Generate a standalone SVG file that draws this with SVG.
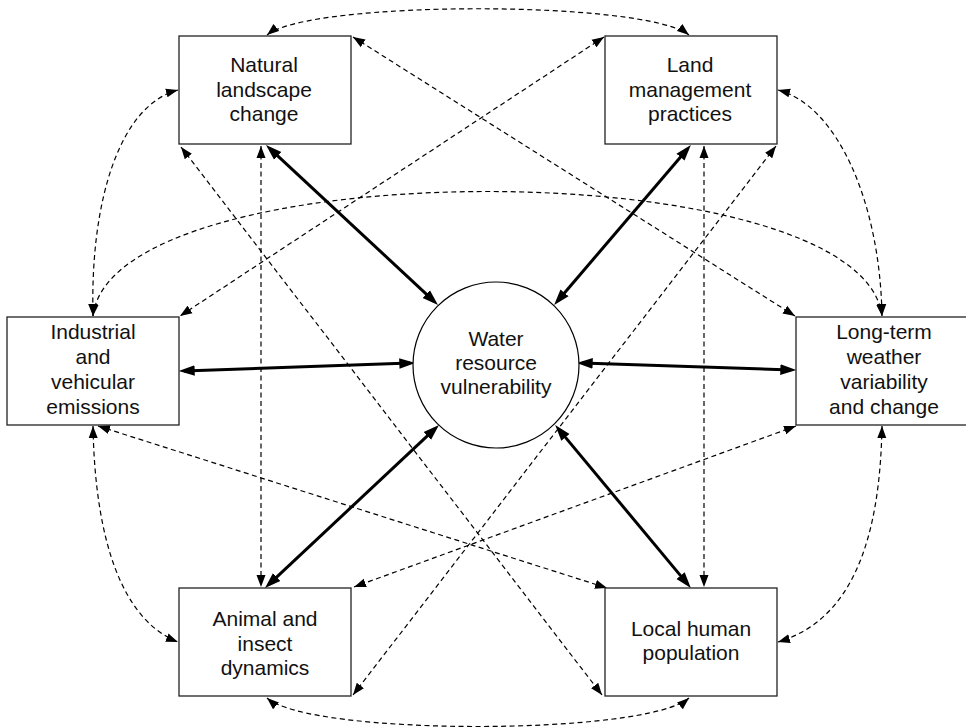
<svg xmlns="http://www.w3.org/2000/svg" width="966" height="728" viewBox="0 0 966 728">
<defs>
<marker id="ad" markerUnits="userSpaceOnUse" markerWidth="12" markerHeight="10" refX="10" refY="3.75" orient="auto-start-reverse" viewBox="0 0 10 7.5">
<path d="M0,0 L10,3.75 L0,7.5 z" fill="#000" stroke="none"/>
</marker>
<marker id="at" markerUnits="userSpaceOnUse" markerWidth="16" markerHeight="12" refX="10" refY="5" orient="auto-start-reverse" viewBox="0 0 15 10">
<path d="M0,0 L15,5 L0,10 z" fill="#000" stroke="none"/>
</marker>
</defs>
<style>
.box{fill:#fff;stroke:#222;stroke-width:1.3}
.lbl{font-family:"Liberation Sans",Arial,Helvetica,sans-serif;font-size:21px;fill:#111;text-anchor:middle}
.d{fill:none;stroke:#000;stroke-width:1.2;stroke-dasharray:5 3.5;marker-start:url(#ad);marker-end:url(#ad)}
.t{fill:none;stroke:#000;stroke-width:3;marker-start:url(#at);marker-end:url(#at)}
</style>
<rect width="966" height="728" fill="#fff"/>
<g id="connectors">
<path class="d" d="M267,35 C310,0 645,0 689,35"/>
<path class="d" d="M267,698 C310,736 645,736 689,698"/>
<path class="d" d="M178,90 C120,105 90,200 93,316"/>
<path class="d" d="M778,90 C836,105 880,200 882,316"/>
<path class="d" d="M93,426 C95,540 122,620 178,642"/>
<path class="d" d="M882,426 C880,540 852,620 778,642"/>
<path class="d" d="M93,316 C112,150 862,150 882,316"/>
<path class="d" d="M261,146 L261,587"/>
<path class="d" d="M704,146 L704,587"/>
<path class="d" d="M181,147 L602,695"/>
<path class="d" d="M353,37 L795,316"/>
<path class="d" d="M604,37 L180,316"/>
<path class="d" d="M776,146 L353,695"/>
<path class="d" d="M98,426 L607,588"/>
<path class="d" d="M796,426 L354,587"/>
<path class="t" d="M269.9,148.7 L434.1,301.3"/>
<path class="t" d="M687.4,149 L557.6,301"/>
<path class="t" d="M184,370.9 L410,363.1"/>
<path class="t" d="M582,363.1 L791,369.9"/>
<path class="t" d="M268.9,584.3 L435.1,428.7"/>
<path class="t" d="M687.4,583.9 L558.6,429.1"/>
</g>
<g id="water">
<circle cx="496" cy="365" r="83" fill="#fff" stroke="#000" stroke-width="1.2"/>
<text class="lbl" x="496" y="346">Water</text>
<text class="lbl" x="496" y="370">resource</text>
<text class="lbl" x="496" y="394">vulnerability</text>
</g>
<g id="natural">
<rect class="box" x="179" y="36" width="172" height="108"/>
<text class="lbl" x="264" y="72">Natural</text>
<text class="lbl" x="264" y="97">landscape</text>
<text class="lbl" x="264" y="121">change</text>
</g>
<g id="land">
<rect class="box" x="605" y="36" width="172" height="108"/>
<text class="lbl" x="690" y="72">Land</text>
<text class="lbl" x="690" y="97">management</text>
<text class="lbl" x="690" y="121">practices</text>
</g>
<g id="industrial">
<rect class="box" x="7" y="317" width="172" height="108"/>
<text class="lbl" x="93" y="339">Industrial</text>
<text class="lbl" x="93" y="364">and</text>
<text class="lbl" x="93" y="389">vehicular</text>
<text class="lbl" x="93" y="414">emissions</text>
</g>
<g id="longterm">
<rect class="box" x="796" y="317" width="172" height="108"/>
<text class="lbl" x="884" y="339">Long-term</text>
<text class="lbl" x="884" y="364">weather</text>
<text class="lbl" x="884" y="389">variability</text>
<text class="lbl" x="884" y="414">and change</text>
</g>
<g id="animal">
<rect class="box" x="179" y="588" width="172" height="108"/>
<text class="lbl" x="265" y="626">Animal and</text>
<text class="lbl" x="265" y="651">insect</text>
<text class="lbl" x="265" y="675">dynamics</text>
</g>
<g id="local">
<rect class="box" x="605" y="588" width="172" height="108"/>
<text class="lbl" x="691" y="636">Local human</text>
<text class="lbl" x="691" y="660">population</text>
</g>
</svg>
